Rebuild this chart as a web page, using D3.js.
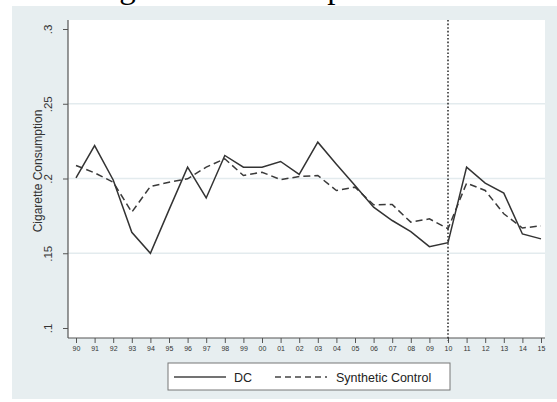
<!DOCTYPE html>
<html>
<head>
<meta charset="utf-8">
<script src="https://cdn.jsdelivr.net/npm/d3@7"></script>
<style>
  html, body { margin: 0; padding: 0; background: #ffffff; }
  svg { display: block; }
</style>
</head>
<body>
<div id="chart"></div>
<script>
// Year labels along the x axis (two-digit years 1990–2015)
const years = ["90","91","92","93","94","95","96","97","98","99","00","01","02","03","04","05","06","07","08","09","10","11","12","13","14","15"];

// Per-capita cigarette consumption, DC vs. its synthetic control
const dcValues = [0.2005, 0.222, 0.199, 0.164, 0.150, 0.179, 0.2076, 0.187, 0.2154, 0.2076, 0.2076, 0.2114, 0.2027, 0.2243, 0.2096, 0.1953, 0.1808, 0.1719, 0.1645, 0.1544, 0.1571, 0.2076, 0.1969, 0.1902, 0.1629, 0.1596];
const synthValues = [0.2087, 0.2038, 0.1975, 0.1775, 0.1947, 0.1975, 0.1998, 0.2076, 0.2132, 0.202, 0.2042, 0.1993, 0.2013, 0.202, 0.192, 0.1942, 0.1824, 0.1826, 0.1708, 0.173, 0.1664, 0.1969, 0.192, 0.1764, 0.1669, 0.1683];

const yTicks = [0.1, 0.15, 0.2, 0.25, 0.3];
const yTickLabels = [".1", ".15", ".2", ".25", ".3"];
const gridTicks = [0.15, 0.2, 0.25];
const treatmentYear = "10";

const W = 557, H = 402;
const svg = d3.select("#chart").append("svg").attr("width", W).attr("height", H);

// Outer graph region
svg.append("rect").attr("x", 0).attr("y", 0).attr("width", W).attr("height", H).attr("fill", "#ffffff");
svg.append("rect").attr("x", 12).attr("y", 6).attr("width", W - 12).attr("height", 393).attr("fill", "#e7eef0");

// Title, mostly clipped at the top edge
svg.append("text")
  .attr("x", 88).attr("y", -2)
  .attr("font-family", "Liberation Serif, Times New Roman, serif")
  .attr("font-size", 33)
  .attr("fill", "#000")
  .text("Cigarette Consumption in DC");

// Plot region
const plot = { left: 68, top: 20, right: 545, bottom: 338 };
svg.append("rect")
  .attr("x", plot.left).attr("y", plot.top)
  .attr("width", plot.right - plot.left).attr("height", plot.bottom - plot.top)
  .attr("fill", "#ffffff");

const x = d3.scalePoint().domain(years).range([76, 541]);
const y = d3.scaleLinear().domain([0.1, 0.3]).range([328, 29]);

// Horizontal gridlines
svg.append("g").selectAll("line").data(gridTicks).join("line")
  .attr("x1", plot.left).attr("x2", plot.right)
  .attr("y1", d => y(d)).attr("y2", d => y(d))
  .attr("stroke", "#e3ebee").attr("stroke-width", 1.4);

// Y axis with vertical (rotated) labels
const yAxis = d3.axisLeft(y).tickValues(yTicks).tickSize(5).tickPadding(4)
  .tickFormat((d, i) => yTickLabels[i]);
const gy = svg.append("g").attr("transform", `translate(${plot.left},0)`).call(yAxis);
gy.select(".domain").remove();
gy.selectAll(".tick line").attr("stroke", "#555");
gy.selectAll(".tick text")
  .attr("font-family", "Liberation Sans, Arial, sans-serif")
  .attr("font-size", 11.5).attr("fill", "#333")
  .attr("transform", "rotate(-90)")
  .attr("x", 0).attr("y", -16.5)
  .attr("dy", null)
  .attr("text-anchor", "middle");
svg.append("line")
  .attr("x1", plot.left).attr("x2", plot.left)
  .attr("y1", plot.top).attr("y2", plot.bottom)
  .attr("stroke", "#555").attr("stroke-width", 1.2);

// Y axis title
svg.append("text")
  .attr("transform", "translate(42,171) rotate(-90)")
  .attr("text-anchor", "middle")
  .attr("font-family", "Liberation Sans, Arial, sans-serif")
  .attr("font-size", 12).attr("fill", "#333")
  .text("Cigarette Consumption");

// X axis
const xAxis = d3.axisBottom(x).tickSize(5).tickPadding(3);
const gx = svg.append("g").attr("transform", `translate(0,${plot.bottom})`).call(xAxis);
gx.select(".domain").remove();
gx.selectAll(".tick line").attr("stroke", "#555");
gx.selectAll(".tick text")
  .attr("font-family", "Liberation Sans, Arial, sans-serif")
  .attr("font-size", 7).attr("fill", "#333");
svg.append("line")
  .attr("x1", plot.left).attr("x2", plot.right)
  .attr("y1", plot.bottom).attr("y2", plot.bottom)
  .attr("stroke", "#555").attr("stroke-width", 1.2);

// Treatment year marker
svg.append("line")
  .attr("x1", x(treatmentYear)).attr("x2", x(treatmentYear))
  .attr("y1", plot.top).attr("y2", plot.bottom + 3)
  .attr("stroke", "#333").attr("stroke-width", 1.6)
  .attr("stroke-dasharray", "1.6,2");

// Series lines
const line = vals => d3.line().x((d, i) => x(years[i])).y(d => y(d))(vals);
svg.append("path").attr("d", line(synthValues))
  .attr("fill", "none").attr("stroke", "#3a3a3a").attr("stroke-width", 1.5)
  .attr("stroke-dasharray", "7,4");
svg.append("path").attr("d", line(dcValues))
  .attr("fill", "none").attr("stroke", "#333").attr("stroke-width", 1.5);

// Legend
const lg = svg.append("g");
lg.append("rect").attr("x", 168).attr("y", 363).attr("width", 282).attr("height", 27)
  .attr("fill", "#fff").attr("stroke", "#777").attr("stroke-width", 1);
lg.append("line").attr("x1", 174).attr("x2", 226).attr("y1", 377).attr("y2", 377)
  .attr("stroke", "#444").attr("stroke-width", 1.4);
lg.append("text").attr("x", 234).attr("y", 381.5)
  .attr("font-family", "Liberation Sans, Arial, sans-serif").attr("font-size", 12.5).attr("fill", "#222")
  .text("DC");
lg.append("line").attr("x1", 275).attr("x2", 327).attr("y1", 377).attr("y2", 377)
  .attr("stroke", "#444").attr("stroke-width", 1.4).attr("stroke-dasharray", "6,4");
lg.append("text").attr("x", 336).attr("y", 381.5)
  .attr("font-family", "Liberation Sans, Arial, sans-serif").attr("font-size", 12.5).attr("fill", "#222")
  .text("Synthetic Control");
</script>
</body>
</html>
